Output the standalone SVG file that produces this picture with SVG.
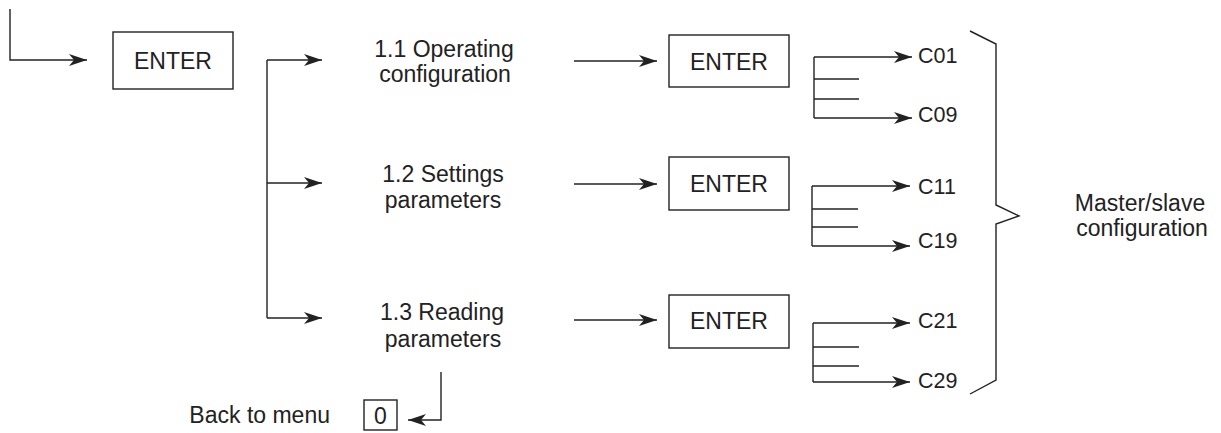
<svg xmlns="http://www.w3.org/2000/svg" width="1221" height="433" viewBox="0 0 1221 433">
<style>
text{font-family:"Liberation Sans",Arial,sans-serif;font-size:23px;fill:#222;}
.m{text-anchor:middle;}
.c{font-size:21.5px;}
.box{fill:none;stroke:#222;stroke-width:1.4;}
.ln{fill:none;stroke:#222;stroke-width:1.4;}
.ar{fill:none;stroke:#222;stroke-width:1.4;marker-end:url(#ah);}
</style>
<defs>
<marker id="ah" markerUnits="userSpaceOnUse" markerWidth="22" markerHeight="16" viewBox="-20 -8 22 16" refX="0" refY="0" orient="auto">
<path d="M0,0 L-18,-6 L-13,0 L-18,6 Z" fill="#222"/>
</marker>
</defs>
<rect width="1221" height="433" fill="#fff"/>
<g id="connectors">
<polyline class="ar" points="10,9 10,60 87,60"/>
<line class="ln" x1="267" y1="60" x2="267" y2="318"/>
<line class="ar" x1="267" y1="60" x2="322" y2="60"/>
<line class="ar" x1="267" y1="183" x2="322" y2="183"/>
<line class="ar" x1="267" y1="318" x2="322" y2="318"/>
<line class="ar" x1="574" y1="61" x2="657" y2="61"/>
<line class="ar" x1="574" y1="184" x2="657" y2="184"/>
<line class="ar" x1="574" y1="320" x2="657" y2="320"/>
<line class="ln" x1="814" y1="57" x2="814" y2="118"/>
<line class="ar" x1="814" y1="57" x2="912" y2="57"/>
<line class="ar" x1="814" y1="118" x2="912" y2="118"/>
<line class="ln" x1="814" y1="79" x2="859" y2="79"/>
<line class="ln" x1="814" y1="99" x2="859" y2="99"/>
<line class="ln" x1="812" y1="186" x2="812" y2="246"/>
<line class="ar" x1="812" y1="186" x2="910" y2="186"/>
<line class="ar" x1="812" y1="246" x2="910" y2="246"/>
<line class="ln" x1="812" y1="209" x2="858" y2="209"/>
<line class="ln" x1="812" y1="227" x2="858" y2="227"/>
<line class="ln" x1="813" y1="323" x2="813" y2="382"/>
<line class="ar" x1="813" y1="323" x2="910" y2="323"/>
<line class="ar" x1="813" y1="382" x2="910" y2="382"/>
<line class="ln" x1="813" y1="347" x2="859" y2="347"/>
<line class="ln" x1="813" y1="366" x2="859" y2="366"/>
<polyline class="ar" points="441,372 441,420 408,420"/>
<polyline class="ln" points="970,31 996,44 996,205 1019,216 996,224 996,380 970,394"/>
</g>
<g id="enter0"><rect class="box" x="113" y="32" width="120" height="57"/><text class="m" x="173" y="69">ENTER</text></g>
<g id="op11"><text class="m" x="444" y="57">1.1 Operating</text><text class="m" x="445" y="82">configuration</text></g>
<g id="set12"><text class="m" x="443" y="182">1.2 Settings</text><text class="m" x="443" y="208">parameters</text></g>
<g id="read13"><text class="m" x="442" y="320">1.3 Reading</text><text class="m" x="443" y="347">parameters</text></g>
<g id="enter1"><rect class="box" x="669" y="35" width="120" height="52"/><text class="m" x="729" y="70">ENTER</text></g>
<g id="enter2"><rect class="box" x="669" y="157" width="120" height="53"/><text class="m" x="729" y="192">ENTER</text></g>
<g id="enter3"><rect class="box" x="669" y="295" width="120" height="53"/><text class="m" x="729" y="329">ENTER</text></g>
<g id="c01"><text class="c" x="918" y="63">C01</text></g>
<g id="c09"><text class="c" x="918" y="122">C09</text></g>
<g id="c11"><text class="c" x="918" y="194">C11</text></g>
<g id="c19"><text class="c" x="918" y="248">C19</text></g>
<g id="c21"><text class="c" x="918" y="328">C21</text></g>
<g id="c29"><text class="c" x="918" y="388">C29</text></g>
<g id="back"><rect class="box" x="364" y="400" width="33" height="30"/><text class="m" x="380.5" y="424">0</text><text x="330" y="423" text-anchor="end">Back to menu</text></g>
<g id="ms"><text class="m" x="1140" y="211">Master/slave</text><text class="m" x="1142" y="236">configuration</text></g>
</svg>
